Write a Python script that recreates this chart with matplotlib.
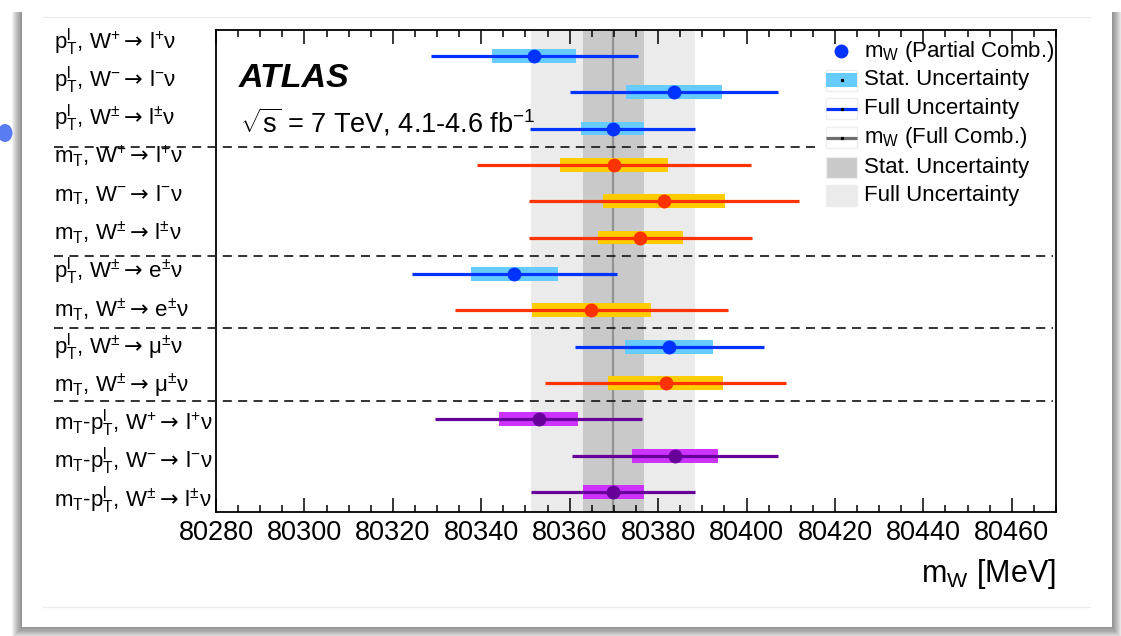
import numpy as np
import matplotlib
matplotlib.use("Agg")
import matplotlib.pyplot as plt
from matplotlib.patches import Rectangle, Ellipse
from matplotlib.lines import Line2D
from matplotlib.ticker import MultipleLocator

plt.rcParams['font.family'] = ['Liberation Sans', 'DejaVu Sans']
plt.rcParams['mathtext.fontset'] = 'custom'
plt.rcParams['mathtext.rm'] = 'Liberation Sans'
plt.rcParams['mathtext.it'] = 'Liberation Sans:italic'
plt.rcParams['mathtext.bf'] = 'Liberation Sans:bold'
plt.rcParams['mathtext.sf'] = 'DejaVu Sans'

AR = r'$\mathsf{\rightarrow}\,$'

# partial combinations of m_W, top row first [MeV]
labels = [
    r'p$_\mathrm{T}^\mathrm{l}$, W$^{+}$' + AR + r'l$^{+}$ν',
    r'p$_\mathrm{T}^\mathrm{l}$, W$^{-}$' + AR + r'l$^{-}$ν',
    r'p$_\mathrm{T}^\mathrm{l}$, W$^{\pm}$' + AR + r'l$^{\pm}$ν',
    r'm$_\mathrm{T}$, W$^{+}$' + AR + r'l$^{+}$ν',
    r'm$_\mathrm{T}$, W$^{-}$' + AR + r'l$^{-}$ν',
    r'm$_\mathrm{T}$, W$^{\pm}$' + AR + r'l$^{\pm}$ν',
    r'p$_\mathrm{T}^\mathrm{l}$, W$^{\pm}$' + AR + r'e$^{\pm}$ν',
    r'm$_\mathrm{T}$, W$^{\pm}$' + AR + r'e$^{\pm}$ν',
    r'p$_\mathrm{T}^\mathrm{l}$, W$^{\pm}$' + AR + r'μ$^{\pm}$ν',
    r'm$_\mathrm{T}$, W$^{\pm}$' + AR + r'μ$^{\pm}$ν',
    r'm$_\mathrm{T}$-p$_\mathrm{T}^\mathrm{l}$, W$^{+}$' + AR + r'l$^{+}$ν',
    r'm$_\mathrm{T}$-p$_\mathrm{T}^\mathrm{l}$, W$^{-}$' + AR + r'l$^{-}$ν',
    r'm$_\mathrm{T}$-p$_\mathrm{T}^\mathrm{l}$, W$^{\pm}$' + AR + r'l$^{\pm}$ν',
]
mw = [80352.0, 80383.6, 80369.7, 80370.1, 80381.3, 80376.0, 80347.5,
      80364.9, 80382.5, 80381.7, 80353.0, 80383.8, 80369.8]
stat = [9.5, 10.8, 7.2, 12.2, 13.8, 9.6, 9.8, 13.5, 10.0, 13.0, 8.9, 9.7, 6.9]
full = [23.4, 23.5, 18.7, 31.0, 30.5, 25.2, 23.1, 30.8, 21.4, 27.2, 23.4, 23.3, 18.6]
group = ['pt', 'pt', 'pt', 'mt', 'mt', 'mt', 'pt', 'mt', 'pt', 'mt', 'comb', 'comb', 'comb']

# full combination
comb_mw = 80369.8
comb_stat = 6.9
comb_full = 18.6

separators = [10.5, 7.5, 5.5, 3.5]

styles = {
    'pt':   dict(line='#0033ff', box='#66ccff'),
    'mt':   dict(line='#ff3300', box='#ffcc00'),
    'comb': dict(line='#660099', box='#cc33ff'),
}

W, H = 1121, 636
fig = plt.figure(figsize=(W / 100, H / 100), dpi=100)
fig.patch.set_facecolor('white')


def fx(px):
    return px / W


def fy(py):
    return 1 - py / H


# card with soft drop shadow
for k in range(10, 0, -1):
    fig.patches.append(Rectangle((fx(22 - k), fy(627 + 1.2 * k)), fx(1090 + 2 * k),
                                 fy(12) - fy(627 + 1.2 * k), transform=fig.transFigure,
                                 facecolor='black', edgecolor='none', alpha=0.05, zorder=-10))
fig.patches.append(Rectangle((fx(22), fy(627)), fx(1090), fy(5) - fy(627),
                             transform=fig.transFigure, facecolor='white',
                             edgecolor='none', zorder=-9))
for yy in (17, 607):
    fig.lines.append(Line2D([fx(43), fx(1090)], [fy(yy), fy(yy)], transform=fig.transFigure,
                            color='#ececec', lw=1, zorder=-8))
fig.patches.append(Ellipse((fx(5), fy(133)), fx(15), fy(124) - fy(142),
                           transform=fig.transFigure, facecolor='#5a7cf2',
                           edgecolor='none', zorder=-8))

ax = fig.add_axes([fx(216), fy(512), fx(1056) - fx(216), fy(30) - fy(512)])
ax.set_xlim(80280, 80470)
ax.set_ylim(0.45, 13.71)

n = len(mw)
ypos = np.arange(n, 0, -1)

# combined result bands
ax.axvspan(comb_mw - comb_full, comb_mw + comb_full, color='#ebebeb', lw=0, zorder=0)
ax.axvspan(comb_mw - comb_stat, comb_mw + comb_stat, color='#c9c9c9', lw=0, zorder=0.5)
ax.axvline(comb_mw, color='#929292', lw=1.6, zorder=1)

h = 0.19
for y, m, s, f, g in zip(ypos, mw, stat, full, group):
    st = styles[g]
    ax.add_patch(Rectangle((m - s, y - h), 2 * s, 2 * h, facecolor=st['box'],
                           edgecolor='none', zorder=2))
    ax.plot([m - f, m + f], [y, y], color=st['line'], lw=2.3, zorder=3,
            solid_capstyle='butt')
    ax.plot(m, y, 'o', color=st['line'], ms=10, mec='none', zorder=4)

# dashed separators between channel groups
for i, ys in enumerate(separators):
    xend = 0.718 if i == 0 else 0.996
    ax.plot([-0.193, xend], [ys, ys], transform=ax.get_yaxis_transform(),
            color='#222222', lw=1.3, ls=(0, (5, 3.5)), clip_on=False, zorder=5)

# row labels
for i, lab in enumerate(labels):
    py = 49.3 + 38.12 * i
    fig.text(fx(54), fy(py), lab, fontsize=16, ha='left', va='baseline')

ax.set_yticks([])
ax.xaxis.set_major_locator(MultipleLocator(20))
ax.xaxis.set_minor_locator(MultipleLocator(5))
ax.tick_params(axis='x', which='both', direction='in', top=True, bottom=True,
               labelsize=19.5, pad=6)
ax.tick_params(axis='x', which='major', length=10, width=1.1)
ax.tick_params(axis='x', which='minor', length=5, width=1.1)
for sp in ax.spines.values():
    sp.set_linewidth(1.3)

fig.text(fx(1056), fy(582), r'm$_\mathrm{W}$ [MeV]', fontsize=22, ha='right', va='baseline')

ax.text(fx(239 - 216) / fx(840), (512 - 87) / 482, 'ATLAS', transform=ax.transAxes,
        fontsize=24.5, fontweight='bold', fontstyle='italic', ha='left', va='baseline')
ax.text(fx(240 - 216) / fx(840), (512 - 132) / 482,
        r'$\sqrt{\mathrm{s}}$ = 7 TeV, 4.1-4.6 fb$^{-1}$', transform=ax.transAxes,
        fontsize=19.5, ha='left', va='baseline')

# legend
def axx(px):
    return (px - 216) / 840


def axy(py):
    return (512 - py) / 482


leg_y = [51, 80, 108.5, 137.7, 167, 195.5]
leg_txt = [r'm$_\mathrm{W}$ (Partial Comb.)', 'Stat. Uncertainty', 'Full Uncertainty',
           r'm$_\mathrm{W}$ (Full Comb.)', 'Stat. Uncertainty', 'Full Uncertainty']
bx0, bw, bh = axx(826), axx(857) - axx(826), 21 / 482
for i, (py, t) in enumerate(zip(leg_y, leg_txt)):
    yc = axy(py)
    ax.text(axx(864), yc, t, transform=ax.transAxes, fontsize=16, ha='left', va='center')
    if i == 0:
        ax.plot(axx(841), yc, 'o', color='#0033ff', ms=10, mec='none',
                transform=ax.transAxes, zorder=6)
        continue
    face = {1: 'white', 2: 'white', 3: 'white', 4: '#c9c9c9', 5: '#ebebeb'}[i]
    ax.add_patch(Rectangle((bx0, yc - bh / 2), bw, bh, transform=ax.transAxes,
                           facecolor=face, edgecolor='#eeeeee', lw=1, zorder=6))
    if i == 1:
        ax.add_patch(Rectangle((bx0, yc - 7.3 / 482), bw, 14.6 / 482, transform=ax.transAxes,
                               facecolor='#66ccff', edgecolor='none', zorder=7))
    if i in (2, 3):
        col = '#0033ff' if i == 2 else '#6e6e6e'
        ax.plot([bx0, bx0 + bw], [yc, yc], color=col, lw=2.3, transform=ax.transAxes,
                zorder=7, solid_capstyle='butt')
    if i in (1, 2, 3):
        ax.plot(bx0 + bw / 2, yc, 's', color='black', ms=1.3, transform=ax.transAxes,
                zorder=8)

fig.savefig('out.png', dpi=100)
